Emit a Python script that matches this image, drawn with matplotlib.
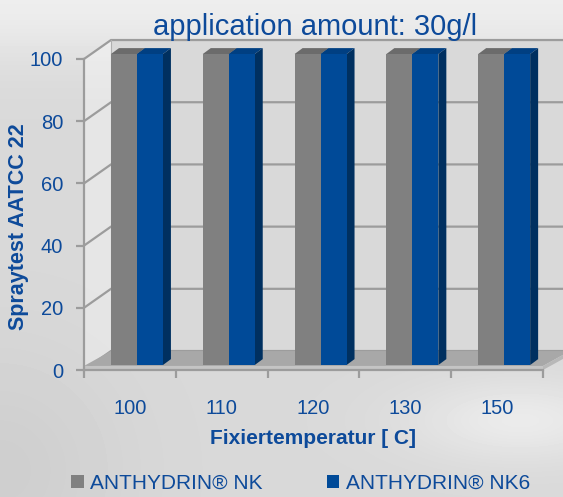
import numpy as np
import matplotlib.pyplot as plt
from matplotlib.patches import Polygon, Patch

plt.rcParams['font.family'] = ['Liberation Sans', 'DejaVu Sans']

# data
categories = ['100', '110', '120', '130', '150']
nk = [100, 100, 100, 100, 100]
nk6 = [100, 100, 100, 100, 100]
series_names = ['ANTHYDRIN® NK', 'ANTHYDRIN® NK6']
yticks = [0, 20, 40, 60, 80, 100]

txt = '#0d4a9a'
gray_c = ('#808080', '#6b6b6b', '#5e5e5e')      # front, top, side
blue_c = ('#004a98', '#003f82', '#003060')

W, H = 563, 497
fig = plt.figure(figsize=(W / 100, H / 100), dpi=100)

# background
bg = fig.add_axes([0, 0, 1, 1], zorder=-5)
yy, xx = np.mgrid[0:H, 0:W]
img = 0.85 + 0.08 * np.exp(-((yy) / 60.0) ** 2)
img += 0.07 * np.exp(-(((xx - 520) / 110.0) ** 2 + ((yy - 420) / 40.0) ** 2))
img -= 0.04 * np.exp(-(((xx - 0) / 120.0) ** 2 + ((yy - 470) / 120.0) ** 2))
bg.imshow(np.clip(img, 0, 1), cmap='gray', vmin=0, vmax=1, aspect='auto')
bg.axis('off')

ax = fig.add_axes([84 / W, (H - 370) / H, (543 - 84) / W, (370 - 59) / H])
ax.set_xlim(0, 5)
ax.set_ylim(0, 100)
ax.patch.set_visible(False)

DX, DY = 0.294, 6.1      # wall depth
T = 1.3                  # floor thickness
n = len(categories)

# left wall and back wall
ax.add_patch(Polygon([(0, 0), (DX, DY), (DX, 100 + DY), (0, 100)], closed=True,
                     fc='white', alpha=0.35, ec='none', zorder=0.5, clip_on=False))
ax.add_patch(Polygon([(DX, DY), (n + 1, DY), (n + 1, 100 + DY), (DX, 100 + DY)], closed=True,
                     fc='#d9d9d9', ec='none', zorder=0.5, clip_on=False))
for v in yticks:
    ax.plot([0, DX, n + 1], [v, v + DY, v + DY], color='#9c9c9c', lw=1.6,
            zorder=0.6, clip_on=False, solid_joinstyle='miter')
ax.plot([DX, DX], [DY, 100 + DY], color='#b0b0b0', lw=0.8, zorder=0.6, clip_on=False)

# floor
ax.add_patch(Polygon([(0, T), (n, T), (n + DX, DY), (DX, DY)], closed=True,
                     fc='#a8a8a8', ec='none', zorder=0.7, clip_on=False))
ax.add_patch(Polygon([(0, 0), (n, 0), (n, T), (0, T)], closed=True,
                     fc='#c4c4c4', ec='none', zorder=0.7, clip_on=False))
ax.add_patch(Polygon([(n, 0), (n + DX, DY - T), (n + DX, DY), (n, T)], closed=True,
                     fc='#b8b8b8', ec='none', zorder=0.7, clip_on=False))

# bars
bw = 0.283
off = 0.294
base = 1.6
ddx, ddy = 0.087, 1.9
x = np.arange(n)


def bars3d(xs, vals, cols, z):
    ax.bar(xs, vals, width=bw, bottom=base, align='edge', color=cols[0],
           zorder=z, clip_on=False)
    for xi, v in zip(xs, vals):
        top = base + v
        ax.add_patch(Polygon([(xi, top), (xi + bw, top), (xi + bw + ddx, top + ddy),
                              (xi + ddx, top + ddy)], closed=True, fc=cols[1],
                             ec='none', zorder=z - 0.1, clip_on=False))
        ax.add_patch(Polygon([(xi + bw, base), (xi + bw + ddx, base + ddy),
                              (xi + bw + ddx, top + ddy), (xi + bw, top)], closed=True,
                             fc=cols[2], ec='none', zorder=z - 0.1, clip_on=False))


bars3d(x + off, nk, gray_c, 2)
bars3d(x + off + bw, nk6, blue_c, 3)

# axes
for s in ['top', 'right']:
    ax.spines[s].set_visible(False)
for s in ['left', 'bottom']:
    ax.spines[s].set_color('#9c9c9c')
    ax.spines[s].set_linewidth(1.6)
    ax.spines[s].set_zorder(0.8)
ax.set_yticks(yticks)
ax.set_yticklabels([str(v) for v in yticks])
ax.tick_params(axis='y', length=6, width=1.6, color='#9c9c9c', labelcolor=txt,
               labelsize=14.5, pad=9)
ax.set_xticks(np.arange(n + 1))
ax.set_xticklabels([])
ax.tick_params(axis='x', which='major', length=6, width=1.6, color='#9c9c9c', direction='out')
ax.set_xticks(x + 0.5, minor=True)
ax.set_xticklabels(categories, minor=True)
ax.tick_params(axis='x', which='minor', length=0, labelcolor=txt, labelsize=14.5, pad=21)

fig.text(315 / W, 1 - 27 / H, 'application amount: 30g/l', color=txt, fontsize=21,
         ha='center', va='center')
fig.text(313 / W, 1 - 438 / H, 'Fixiertemperatur [ C]', color=txt, fontsize=15,
         fontweight='bold', ha='center', va='center')
fig.text(19 / W, 1 - 227 / H, 'Spraytest AATCC 22', color=txt, fontsize=15.5,
         fontweight='bold', ha='center', va='center', rotation=90)

handles = [Patch(fc=gray_c[0], ec='none'), Patch(fc=blue_c[0], ec='none')]
leg = fig.legend(handles, series_names, loc='center left', ncol=2,
                 bbox_to_anchor=(71 / W, 1 - 483 / H), frameon=False, fontsize=15,
                 handlelength=0.6, handleheight=0.6, handletextpad=0.3,
                 columnspacing=3.1, borderpad=0, borderaxespad=0)
for t in leg.get_texts():
    t.set_color(txt)

fig.savefig('out.png', dpi=100)
